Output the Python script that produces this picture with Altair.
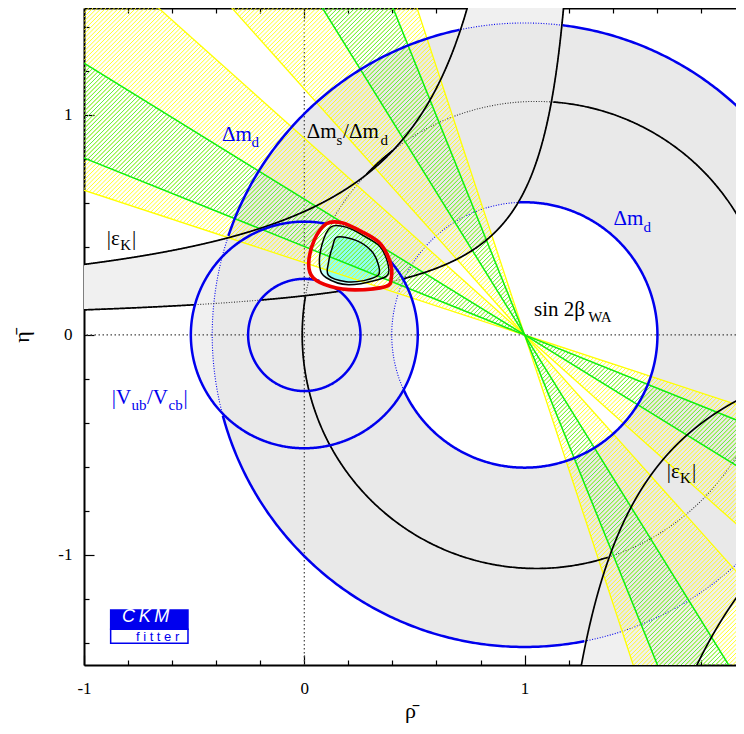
"""Unitarity triangle constraints in the (rho-bar, eta-bar) plane, CKMfitter style."""

import numpy as np
import pandas as pd
import altair as alt

alt.data_transformers.disable_max_rows()

# Constraint parameters
apex = [1.0, 0.0]                          # Delta m_d centre and sin 2beta apex
dmd_radii = [0.603, 1.418]                 # Delta m_d ring around (1, 0)
vub_radii = [0.255, 0.515]                 # |Vub/Vcb| ring around (0, 0)
dms_scale = 1.035                          # Delta m_s / Delta m_d bound
lambda_sq = 0.0484
# |eps_K| boundaries: (eta - eta0) * (a - rho) = b, stored as [eta0, a, b]
epsk_upper_low = [0.030, 1.310, 0.194]
epsk_upper_high = [0.043, 1.154, 0.598]
epsk_lower_in = [0.260, 0.930, 0.577]
epsk_lower_out = [0.260, 0.930, 1.500]
# sin 2beta_WA wedges, beta in degrees (two-fold ambiguity)
beta_outer = [[18.2, 41.8], [48.2, 71.8]]
beta_inner = [[21.9, 31.7], [58.3, 68.1]]

# Global fit contours
cl_red_rho = [0.10, 0.17, 0.26, 0.345, 0.39, 0.395, 0.37, 0.23, 0.12, 0.04, 0.02, 0.045]
cl_red_eta = [0.505, 0.51, 0.47, 0.415, 0.33, 0.26, 0.22, 0.205, 0.22, 0.26, 0.325, 0.43]
cl_mid_rho = [0.12, 0.19, 0.28, 0.345, 0.378, 0.38, 0.33, 0.20, 0.10, 0.07, 0.08]
cl_mid_eta = [0.49, 0.49, 0.445, 0.40, 0.33, 0.275, 0.25, 0.228, 0.26, 0.31, 0.41]
cl_in_rho = [0.15, 0.235, 0.305, 0.336, 0.336, 0.27, 0.19, 0.11, 0.11, 0.128]
cl_in_eta = [0.445, 0.43, 0.382, 0.32, 0.272, 0.247, 0.242, 0.27, 0.33, 0.40]

# Labels (text, rho, eta, font size, colour)
label_text = ["Δm", "d", "Δm", "s", "/Δm", "d", "|ε", "K", "|", "Δm", "d",
              "sin 2β", "WA", "|V", "ub", "/V", "cb", "|", "|ε", "K", "|"]
label_rho = [-0.374, -0.240, 0.011, 0.146, 0.176, 0.346, -0.897, -0.836, -0.782, 1.403, 1.540,
             1.043, 1.289, -0.874, -0.784, -0.714, -0.616, -0.548, 1.645, 1.705, 1.760]
label_eta = [0.880, 0.855, 0.894, 0.864, 0.894, 0.864, 0.409, 0.384, 0.409, 0.498, 0.468,
             0.086, 0.060, -0.314, -0.341, -0.314, -0.341, -0.314, -0.650, -0.675, -0.650]
label_size = [21, 15, 21, 15, 21, 15, 21, 15, 21, 21, 15, 21, 15, 21, 15, 21, 15, 21, 21, 15, 21]
label_color = ["blue", "blue", "black", "black", "black", "black", "black", "black", "black",
               "blue", "blue", "black", "black", "blue", "blue", "blue", "blue", "blue",
               "black", "black", "black"]

# CKMfitter logo box
logo_rho = [-0.879, -0.528]
logo_eta = [-1.250, -1.338, -1.401]

x_ticks = [round(v, 1) for v in np.arange(-1.0, 2.001, 0.2)]
y_ticks = [round(v, 1) for v in np.arange(-1.4, 1.401, 0.2)]

PLOT_W, PLOT_H = 652, 657
X_DOMAIN = [-1.0, -1.0 + PLOT_W / 220.3]
Y_DOMAIN = [-1.5, 1.486]
SERIF = "Liberation Serif"
BLUE = "#0000ee"
COLORS = {"blue": BLUE, "black": "black"}

xs = alt.Scale(domain=X_DOMAIN, nice=False, zero=False)
ys = alt.Scale(domain=Y_DOMAIN, nice=False, zero=False)


def circle(cx, cy, r, n=721):
    th = np.linspace(0.0, 2.0 * np.pi, n)
    return cx + r * np.cos(th), cy + r * np.sin(th)


def dms_curve(n=721):
    th = np.linspace(0.0, 2.0 * np.pi, n)
    r = dms_scale * (1 + 0.5 * lambda_sq) / (1 - dms_scale * lambda_sq * np.cos(th))
    return apex[0] + r * np.cos(th), apex[1] + r * np.sin(th)


def epsk_branch(p, upper, n=1500):
    eta0, a, b = p
    if upper:
        rho = np.linspace(-1.05, a - b / (1.6 - eta0), n)
        return rho, eta0 + b / (a - rho)
    rho = np.linspace(a + b / (eta0 + 1.6), 2.05, n)
    return rho, eta0 - b / (rho - a)


def inside_poly(px, py, vx, vy):
    inside = np.zeros(len(px), dtype=bool)
    j = len(vx) - 1
    for i in range(len(vx)):
        cross = ((vy[i] > py) != (vy[j] > py)) & (
            px < (vx[j] - vx[i]) * (py - vy[i]) / (vy[j] - vy[i] + 1e-12) + vx[i])
        inside ^= cross
        j = i
    return inside


def in_epsk(r, e):
    e0, a, b = epsk_upper_low
    above_low = (r < a) & ((e - e0) * (a - r) >= b)
    e0, a, b = epsk_upper_high
    below_high = (r >= a) | ((e - e0) * (a - r) <= b)
    upper = above_low & below_high & (e > 0)
    e0, a, b = epsk_lower_in
    below_in = (r > a) & (e <= e0 - b / np.maximum(r - a, 1e-9))
    e0, a, b = epsk_lower_out
    above_out = (r > a) & (e >= e0 - b / np.maximum(r - a, 1e-9))
    return upper | (below_in & above_out)


def in_vub(r, e):
    rr = np.hypot(r, e)
    return (rr >= vub_radii[0]) & (rr <= vub_radii[1])


def in_fit(r, e):
    return inside_poly(r, e, np.array(cl_red_rho), np.array(cl_red_eta))


def segments(name, rho, eta, solid, closed):
    rho, eta, solid = np.asarray(rho), np.asarray(eta), np.asarray(solid)
    if closed and (~solid).any():
        k = int(np.argmax(~solid))
        rho, eta, solid = np.roll(rho, -k), np.roll(eta, -k), np.roll(solid, -k)
    rows, seg, prev = [], -1, False
    for i in range(len(rho)):
        if solid[i]:
            if not prev:
                seg += 1
            rows.append((rho[i], eta[i], f"{name}-{seg}", i))
        prev = solid[i]
    return pd.DataFrame(rows, columns=["rho", "eta", "seg", "i"])


def whole(name, rho, eta):
    return pd.DataFrame({"rho": rho, "eta": eta, "seg": name, "i": np.arange(len(rho))})


def line_layer(df, color, width, dash=None, interp="linear", fill=None):
    kw = dict(color=color, strokeWidth=width, clip=True, interpolate=interp)
    if dash:
        kw["strokeDash"] = dash
    if fill:
        kw["fill"] = fill
    return alt.Chart(df).mark_line(**kw).encode(
        x=alt.X("rho:Q", scale=xs, axis=None),
        y=alt.Y("eta:Q", scale=ys, axis=None),
        detail="seg:N",
        order="i:Q",
    )


def rule_layer(df, color, width):
    return alt.Chart(df).mark_rule(color=color, strokeWidth=width, clip=True).encode(
        x=alt.X("x:Q", scale=xs, axis=None), y=alt.Y("y:Q", scale=ys, axis=None),
        x2="x2:Q", y2="y2:Q")


# ---- filled regions ----
def ring(cx, cy, r_in, r_out):
    xo, yo = circle(cx, cy, r_out)
    xi, yi = circle(cx, cy, r_in)
    return np.concatenate([xo, xi[::-1]]), np.concatenate([yo, yi[::-1]])


ul_r, ul_e = epsk_branch(epsk_upper_low, True)
uh_r, uh_e = epsk_branch(epsk_upper_high, True)
li_r, li_e = epsk_branch(epsk_lower_in, False)
lo_r, lo_e = epsk_branch(epsk_lower_out, False)

vr, ve = ring(0.0, 0.0, *vub_radii)
stipple = pd.concat([
    whole("ekup", np.concatenate([ul_r, uh_r[::-1]]), np.concatenate([ul_e, uh_e[::-1]])),
    whole("ekdn", np.concatenate([li_r, lo_r[::-1]]), np.concatenate([li_e, lo_e[::-1]])),
    whole("vub", vr, ve),
])
dr, de = ring(apex[0], apex[1], *dmd_radii)
dmd_fill = whole("dmd", dr, de)

# ---- constraint boundary lines ----
dmd_in = circle(apex[0], apex[1], dmd_radii[0])
dmd_out = circle(apex[0], apex[1], dmd_radii[1])
vub_in = circle(0.0, 0.0, vub_radii[0])
vub_out = circle(0.0, 0.0, vub_radii[1])
dms = dms_curve()

dotted_blue = pd.concat([whole("a", *dmd_in), whole("b", *dmd_out)])
dotted_black = pd.concat([whole("c", *dms), whole("d", ul_r, ul_e), whole("e", uh_r, uh_e)])

solid_blue = pd.concat([
    segments("din", *dmd_in, ~(in_epsk(*dmd_in) | in_vub(*dmd_in) | in_fit(*dmd_in)), True),
    segments("dout", *dmd_out, ~(in_epsk(*dmd_out) | in_vub(*dmd_out) | in_fit(*dmd_out)), True),
    segments("vin", *vub_in, ~in_fit(*vub_in), True),
    segments("vout", *vub_out, ~in_fit(*vub_out), True),
])
solid_black = pd.concat([
    segments("dms", *dms, ~(in_epsk(*dms) | in_fit(*dms)), True),
    segments("ul", ul_r, ul_e, ~(in_vub(ul_r, ul_e) | in_fit(ul_r, ul_e)), False),
    segments("uh", uh_r, uh_e, ~(in_vub(uh_r, uh_e) | in_fit(uh_r, uh_e)), False),
    segments("li", li_r, li_e, np.ones(len(li_r), bool), False),
    segments("lo", lo_r, lo_e, np.ones(len(lo_r), bool), False),
])


# ---- sin 2beta wedges: hatching and edges ----
def wedge_triangles(betas):
    tris = []
    for b1, b2 in betas:
        for phis in ([180.0 - b2, 180.0 - b1], [-b2, -b1]):
            pts = [apex] + [[apex[0] + 6 * np.cos(np.radians(p)), apex[1] + 6 * np.sin(np.radians(p))]
                            for p in phis]
            tris.append(np.array(pts))
    return tris


def hatch(tris, offsets):
    rows = []
    for tri in tris:
        for c in offsets:
            f = tri[:, 1] - tri[:, 0] - c
            pts = []
            for i in range(3):
                j = (i + 1) % 3
                if (f[i] > 0) != (f[j] > 0):
                    t = f[i] / (f[i] - f[j])
                    pts.append(tri[i] + t * (tri[j] - tri[i]))
            if len(pts) == 2:
                rows.append({"x": pts[0][0], "y": pts[0][1], "x2": pts[1][0], "y2": pts[1][1]})
    return pd.DataFrame(rows)


def wedge_edges(betas):
    rows = []
    for pair in betas:
        for b in pair:
            dx, dy = -np.cos(np.radians(b)), np.sin(np.radians(b))
            rows.append({"x": apex[0] - 6 * dx, "y": apex[1] - 6 * dy,
                         "x2": apex[0] + 6 * dx, "y2": apex[1] + 6 * dy})
    return pd.DataFrame(rows)


offsets = np.arange(-3.6, 2.6, 0.0195)
hatch_yellow = hatch(wedge_triangles(beta_outer), offsets)
hatch_green = hatch(wedge_triangles(beta_inner), offsets)

# ---- fit contours ----
red_df = whole("red", cl_red_rho, cl_red_eta)
mid_df = whole("mid", cl_mid_rho, cl_mid_eta)
in_df = whole("in", cl_in_rho, cl_in_eta)

labels = pd.DataFrame({"t": label_text, "rho": label_rho, "eta": label_eta,
                       "s": label_size, "c": [COLORS[c] for c in label_color]})

zero_df = pd.DataFrame({"rho": [0.0], "eta": [0.0]})

layers = [
    line_layer(stipple, "#f0f0f0", 0, fill="#f0f0f0"),
    line_layer(dmd_fill, "#e9e9e9", 0, fill="#e9e9e9"),
    alt.Chart(zero_df).mark_rule(color="#444", strokeDash=[1.5, 2.5], strokeWidth=1.2).encode(
        x=alt.X("rho:Q", scale=xs, axis=None)),
    alt.Chart(zero_df).mark_rule(color="#444", strokeDash=[1.5, 2.5], strokeWidth=1.2).encode(
        y=alt.Y("eta:Q", scale=ys, axis=None)),
    line_layer(dotted_blue, BLUE, 1.1, dash=[1, 1.6]),
    line_layer(dotted_black, "#333", 1.1, dash=[1, 1.6]),
    line_layer(red_df, "white", 0, interp="cardinal-closed", fill="white"),
    line_layer(mid_df, "#c6fff8", 0, interp="cardinal-closed", fill="#c6fff8"),
    line_layer(in_df, "#8dfff2", 0, interp="cardinal-closed", fill="#8dfff2"),
    rule_layer(hatch_yellow, "#ffff00", 0.85),
    rule_layer(hatch_green, "#3ee83e", 0.8),
    rule_layer(wedge_edges(beta_outer), "#ffff00", 1.3),
    rule_layer(wedge_edges(beta_inner), "#11ee11", 1.5),
    line_layer(solid_black, "black", 1.7),
    line_layer(solid_blue, BLUE, 2.5),
    line_layer(in_df, "black", 1.5, interp="cardinal-closed"),
    line_layer(mid_df, "black", 1.5, interp="cardinal-closed"),
    line_layer(red_df, "#ee0000", 3.6, interp="cardinal-closed"),
    alt.Chart(labels).mark_text(align="left", baseline="alphabetic", font=SERIF).encode(
        x=alt.X("rho:Q", scale=xs, axis=None), y=alt.Y("eta:Q", scale=ys, axis=None),
        text="t:N", size=alt.Size("s:Q", scale=None), color=alt.Color("c:N", scale=None)),
]

# logo
logo_boxes = pd.DataFrame({"x": [logo_rho[0]] * 2, "x2": [logo_rho[1]] * 2,
                           "y": [logo_eta[1], logo_eta[2]], "y2": [logo_eta[0], logo_eta[1]],
                           "f": [BLUE, "white"]})
logo_ckm = pd.DataFrame({"t": ["C\u2009K\u2009M"], "x": [-0.72], "y": [-1.306]})
logo_fitter = pd.DataFrame({"t": ["f i t t e r"], "x": [-0.666], "y": [-1.3895]})
layers += [
    alt.Chart(logo_boxes).mark_rect(stroke=BLUE, strokeWidth=1.5).encode(
        x=alt.X("x:Q", scale=xs, axis=None), x2="x2:Q",
        y=alt.Y("y:Q", scale=ys, axis=None), y2="y2:Q",
        fill=alt.Fill("f:N", scale=None)),
    alt.Chart(logo_ckm).mark_text(align="center", baseline="alphabetic", font="Liberation Sans",
                                  fontStyle="italic", fontSize=18, color="white").encode(
        x=alt.X("x:Q", scale=xs, axis=None), y=alt.Y("y:Q", scale=ys, axis=None), text="t:N"),
    alt.Chart(logo_fitter).mark_text(align="center", baseline="alphabetic", font="Liberation Sans",
                                     fontSize=13, color=BLUE).encode(
        x=alt.X("x:Q", scale=xs, axis=None), y=alt.Y("y:Q", scale=ys, axis=None), text="t:N"),
]

# axes: labels on bottom/left, inward ticks; frame drawn by axis domains
# (the right edge of the frame falls outside the picture, as in the original)
dummy = pd.DataFrame({"rho": [0.0], "eta": [0.0]})
tick_len = {"condition": {"test": "abs(datum.value - round(datum.value)) < 0.01", "value": 10},
            "value": 5}
tick_kw = dict(labels=False, grid=False, ticks=True, tickColor="black",
               tickWidth=1.2, tickSize=tick_len, title=None, domainColor="black", domainWidth=2)
label_kw = dict(ticks=False, tickSize=0, domain=True, domainColor="black", domainWidth=2,
                grid=False, labelFlush=False,
                labelFont=SERIF, labelFontSize=17, labelColor="black",
                labelExpr="replace(datum.label, '\u2212', '-')",
                titleFont=SERIF, titleFontSize=22, titleFontWeight="normal", titleColor="black")


def axis_layer(x_axis, y_axis):
    return alt.Chart(dummy).mark_point(opacity=0).encode(
        x=alt.X("rho:Q", scale=xs, axis=x_axis), y=alt.Y("eta:Q", scale=ys, axis=y_axis))


layers += [
    axis_layer(alt.Axis(orient="bottom", values=[-1, 0, 1, 2], labelPadding=15, title="ρ\u0304",
                        titlePadding=4, **label_kw),
               alt.Axis(orient="left", values=[-1, 0, 1], labelPadding=12, title="η\u0304",
                        titlePadding=24, **label_kw)),
    axis_layer(alt.Axis(orient="top", offset=-PLOT_H, values=x_ticks, domain=False, **tick_kw),
               alt.Axis(orient="right", offset=-PLOT_W, values=y_ticks, domain=False, **tick_kw)),
    axis_layer(alt.Axis(orient="bottom", offset=-PLOT_H, values=x_ticks, domain=True, **tick_kw),
               None),
]

chart = (
    alt.layer(*layers)
    .resolve_axis(x="independent", y="independent")
    .properties(
        width=PLOT_W,
        height=PLOT_H,
        autosize=alt.AutoSizeParams(type="none"),
        padding={"left": 76, "top": 0, "right": 0, "bottom": 60},
        background="white",
    )
    .configure_view(strokeWidth=0)
)

chart.save("out.html", embed_options={"renderer": "svg", "actions": False})
